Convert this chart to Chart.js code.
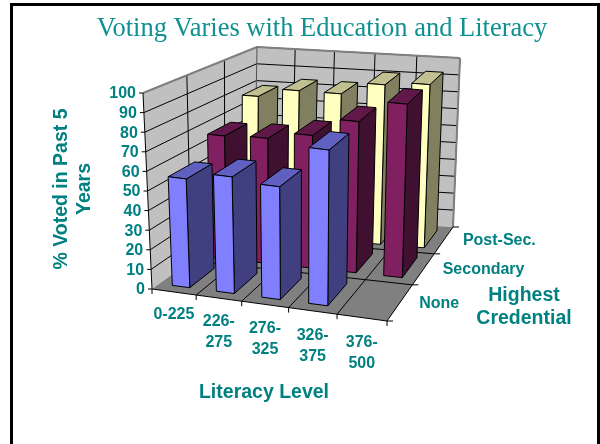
<!DOCTYPE html>
<html>
<head>
<meta charset="utf-8">
<title>Voting Varies with Education and Literacy</title>
<script src="https://cdn.jsdelivr.net/npm/chart.js@4"></script>
<style>
    html, body { margin: 0; padding: 0; background: #fff; }
    canvas { display: block; }
</style>
</head>
<body>
<canvas id="votingChart" width="600" height="444"></canvas>
<script>
const chartTitle = "Voting Varies with Education and Literacy";
const literacyLevels = ["0-225", "226-275", "276-325", "326-375", "376-500"];
const literacyTicks = [["0-225"], ["226-", "275"], ["276-", "325"], ["326-", "375"], ["376-", "500"]];
const credentials = ["None", "Secondary", "Post-Sec."];

// % voted
const noneValues = [56, 60, 58, 80, null];
const secondaryValues = [67, 68, 72, 82, 94];
const postSecValues = [79, 84, 84, 91, 93];

const yTitleLines = ["% Voted in Past 5", "Years"];
const xTitle = "Literacy Level";
const zTitleLines = ["Highest", "Credential"];

const TEAL = "#008080";
const WIDTH_SHARE = 0.4;
const DEPTH_SHARE = 0.65;
const TICK_FONT = "bold 16px 'Liberation Sans'";
const TITLE_FONT = "bold 19.5px 'Liberation Sans'";

// Corners of the 3D box on screen: front-left, front-right, back-right, back-left
const floorCorners = [[152, 289], [387, 321], [453, 227], [254, 215]];
const roofCorners = [[143, 93], [392, 124], [460, 58], [257, 47]];

//Rough perspective, rows shrink going back and columns a little going left
const warp = (t, r) => t / (t + (1 - t) * r);

function mapQuad(q, u, v) {
    const fx = q[0][0] + (q[1][0] - q[0][0]) * u, fy = q[0][1] + (q[1][1] - q[0][1]) * u;
    const bx = q[3][0] + (q[2][0] - q[3][0]) * u, by = q[3][1] + (q[2][1] - q[3][1]) * u;
    return [fx + (bx - fx) * v, fy + (by - fy) * v];
}

// u along literacy, v into depth, w up, all 0..1
function project(u, v, w) {
    const uu = warp(u, 1.08), vv = warp(v, 0.8);
    const f = mapQuad(floorCorners, uu, vv), r = mapQuad(roofCorners, uu, vv);
    return [f[0] + (r[0] - f[0]) * w, f[1] + (r[1] - f[1]) * w];
}

function poly(ctx, pts, fill, stroke, lw) {
    ctx.beginPath();
    pts.forEach((p, i) => i ? ctx.lineTo(p[0], p[1]) : ctx.moveTo(p[0], p[1]));
    ctx.closePath();
    if (fill) {
        ctx.fillStyle = fill;
        ctx.fill();
    }
    if (stroke) {
        ctx.strokeStyle = stroke;
        ctx.lineWidth = lw || 1;
        ctx.stroke();
    }
}

function line(ctx, a, b, color, lw) {
    ctx.beginPath();
    ctx.moveTo(a[0], a[1]);
    ctx.lineTo(b[0], b[1]);
    ctx.strokeStyle = color;
    ctx.lineWidth = lw || 1;
    ctx.stroke();
}

function label(ctx, text, x, y, font, align) {
    ctx.font = font;
    ctx.fillStyle = TEAL;
    ctx.textAlign = align;
    ctx.textBaseline = "middle";
    ctx.fillText(text, x, y);
}

function drawBox(chart) {
    const ctx = chart.ctx;
    const xs = chart.scales.x, ys = chart.scales.y, zs = chart.scales.depth;
    const yFrac = val => (ys.bottom - ys.getPixelForValue(val)) / ys.height;
    const xEdge = i => i / literacyLevels.length;
    const zEdge = i => i / credentials.length;

    // walls and floor
    poly(ctx, [project(0, 0, 0), project(0, 1, 0), project(0, 1, 1), project(0, 0, 1)], "#c0c0c0");
    poly(ctx, [project(0, 1, 0), project(1, 1, 0), project(1, 1, 1), project(0, 1, 1)], "#c0c0c0");
    poly(ctx, [project(0, 0, 0), project(1, 0, 0), project(1, 1, 0), project(0, 1, 0)], "#808080");

    // gridlines
    ys.ticks.forEach(t => {
        const w = yFrac(t.value);
        if (w === 0) return;
        line(ctx, project(0, 0, w), project(0, 1, w), "#000");
        line(ctx, project(0, 1, w), project(1, 1, w), "#000");
    });
    for (let i = 1; i <= literacyLevels.length; i++) {
        if (i < literacyLevels.length) {
            line(ctx, project(xEdge(i), 0, 0), project(xEdge(i), 1, 0), "#000");
        }
        line(ctx, project(xEdge(i), 1, 0), project(xEdge(i), 1, 1), "#000");
    }
    for (let i = 1; i < credentials.length; i++) {
        line(ctx, project(0, zEdge(i), 0), project(1, zEdge(i), 0), "#000");
        line(ctx, project(0, zEdge(i), 0), project(0, zEdge(i), 1), "#000");
    }

    // outer edge of the walls
    ctx.lineJoin = "round";
    line(ctx, project(0, 0, 1), project(0, 1, 1), "#808080", 2);
    line(ctx, project(0, 1, 1), project(1, 1, 1), "#808080", 2);
    line(ctx, project(1, 1, 1), project(1, 1, 0), "#808080", 2);
    line(ctx, project(0, 1, 0), project(0, 1, 1), "#505050", 1);

    // axes and ticks
    line(ctx, project(0, 0, 0), project(0, 0, 1), "#000");
    line(ctx, project(0, 0, 0), project(1, 0, 0), "#000");
    line(ctx, project(1, 0, 0), project(1, 1, 0), "#000");
    ys.ticks.forEach(t => {
        const p = project(0, 0, yFrac(t.value));
        line(ctx, [p[0] - 4, p[1]], p, "#000");
        label(ctx, String(t.value), p[0] - 7, p[1] + 1, TICK_FONT, "right");
    });
    for (let i = 0; i <= literacyLevels.length; i++) {
        const p = project(xEdge(i), 0, 0);
        line(ctx, p, [p[0], p[1] + 5], "#000");
    }
    for (let i = 0; i <= credentials.length; i++) {
        const p = project(1, zEdge(i), 0);
        line(ctx, p, [p[0] + 6, p[1]], "#000");
    }

    // category text
    literacyTicks.forEach((lines, i) => {
        const px = xs.getPixelForValue(i);
        const p = project((px - xs.left) / xs.width, 0, 0);
        lines.forEach((s, n) => {
            label(ctx, s, p[0], p[1] + 23 + i * 0.6 + n * 21, TICK_FONT, "center");
        });
    });
    credentials.forEach((s, i) => {
        const v = (zs.getPixelForValue(i) - zs.left) / zs.width;
        const p = project(1, v, 0);
        label(ctx, s, p[0] + 19, p[1] + 1, TICK_FONT, "left");
    });

    // axis titles
    label(ctx, xTitle, 264, 393, TITLE_FONT, "center");
    zTitleLines.forEach((s, i) => label(ctx, s, 524, 296 + i * 23, TITLE_FONT, "center"));
    ctx.save();
    ctx.translate(73, 189);
    ctx.rotate(-Math.PI / 2);
    yTitleLines.forEach((s, i) => label(ctx, s, 0, -11 + i * 23, TITLE_FONT, "center"));
    ctx.restore();
}

function drawBars(chart) {
    const ctx = chart.ctx;
    const xs = chart.scales.x, ys = chart.scales.y, zs = chart.scales.depth;
    const half = DEPTH_SHARE / credentials.length / 2;

    // back row first, left to right in each row
    for (let d = chart.data.datasets.length - 1; d >= 0; d--) {
        const ds = chart.data.datasets[d];
        const vMid = (zs.getPixelForValue(d) - zs.left) / zs.width;
        const v0 = vMid - half, v1 = vMid + half;
        chart.getDatasetMeta(d).data.forEach((el, i) => {
            if (ds.data[i] == null) return;
            const u0 = (el.x - el.width / 2 - xs.left) / xs.width;
            const u1 = (el.x + el.width / 2 - xs.left) / xs.width;
            const w = (ys.bottom - el.y) / ys.height;
            poly(ctx, [project(u1, v0, 0), project(u1, v1, 0), project(u1, v1, w), project(u1, v0, w)], ds.sideColor, "#000");
            poly(ctx, [project(u0, v0, w), project(u1, v0, w), project(u1, v1, w), project(u0, v1, w)], ds.topColor, "#000");
            poly(ctx, [project(u0, v0, 0), project(u1, v0, 0), project(u1, v0, w), project(u0, v0, w)], ds.backgroundColor, "#000");
        });
    }
}

const box3d = {
    id: "box3d",
    beforeDraw(chart) {
        const ctx = chart.ctx;
        ctx.save();
        ctx.fillStyle = "#fff";
        ctx.fillRect(0, 0, chart.width, chart.height);
        // slide frame, its bottom is cut off in the original too
        ctx.strokeStyle = "#000";
        ctx.lineWidth = 3;
        ctx.strokeRect(11.5, 4.5, 587, 460);
        ctx.restore();
    },
    beforeDatasetsDraw(chart) {
        const ctx = chart.ctx;
        ctx.save();
        drawBox(chart);
        drawBars(chart);
        ctx.restore();
        return false; // flat bars are replaced by the prisms
    }
};

new Chart(document.getElementById("votingChart"), {
    type: "bar",
    data: {
        labels: literacyLevels,
        datasets: [
            { label: credentials[0], data: noneValues, backgroundColor: "#8080ff", sideColor: "#404080", topColor: "#6060c0" },
            { label: credentials[1], data: secondaryValues, backgroundColor: "#802060", sideColor: "#401030", topColor: "#601848" },
            { label: credentials[2], data: postSecValues, backgroundColor: "#ffffc0", sideColor: "#808060", topColor: "#c0c090" }
        ]
    },
    options: {
        responsive: false,
        animation: false,
        layout: { padding: { left: 44, top: 7 } },
        datasets: { bar: { grouped: false, barPercentage: WIDTH_SHARE, categoryPercentage: 1 } },
        scales: {
            x: { display: false, offset: true },
            y: { display: false, min: 0, max: 100, ticks: { stepSize: 10 } },
            depth: { type: "category", axis: "x", labels: credentials, offset: true, display: false }
        },
        plugins: {
            legend: { display: false },
            tooltip: { enabled: false },
            title: {
                display: true,
                text: chartTitle,
                color: "#109090",
                font: { family: "'Liberation Serif'", size: 26.5, weight: "normal" },
                padding: { top: 6, bottom: 6 }
            }
        }
    },
    plugins: [box3d]
});
</script>
</body>
</html>
